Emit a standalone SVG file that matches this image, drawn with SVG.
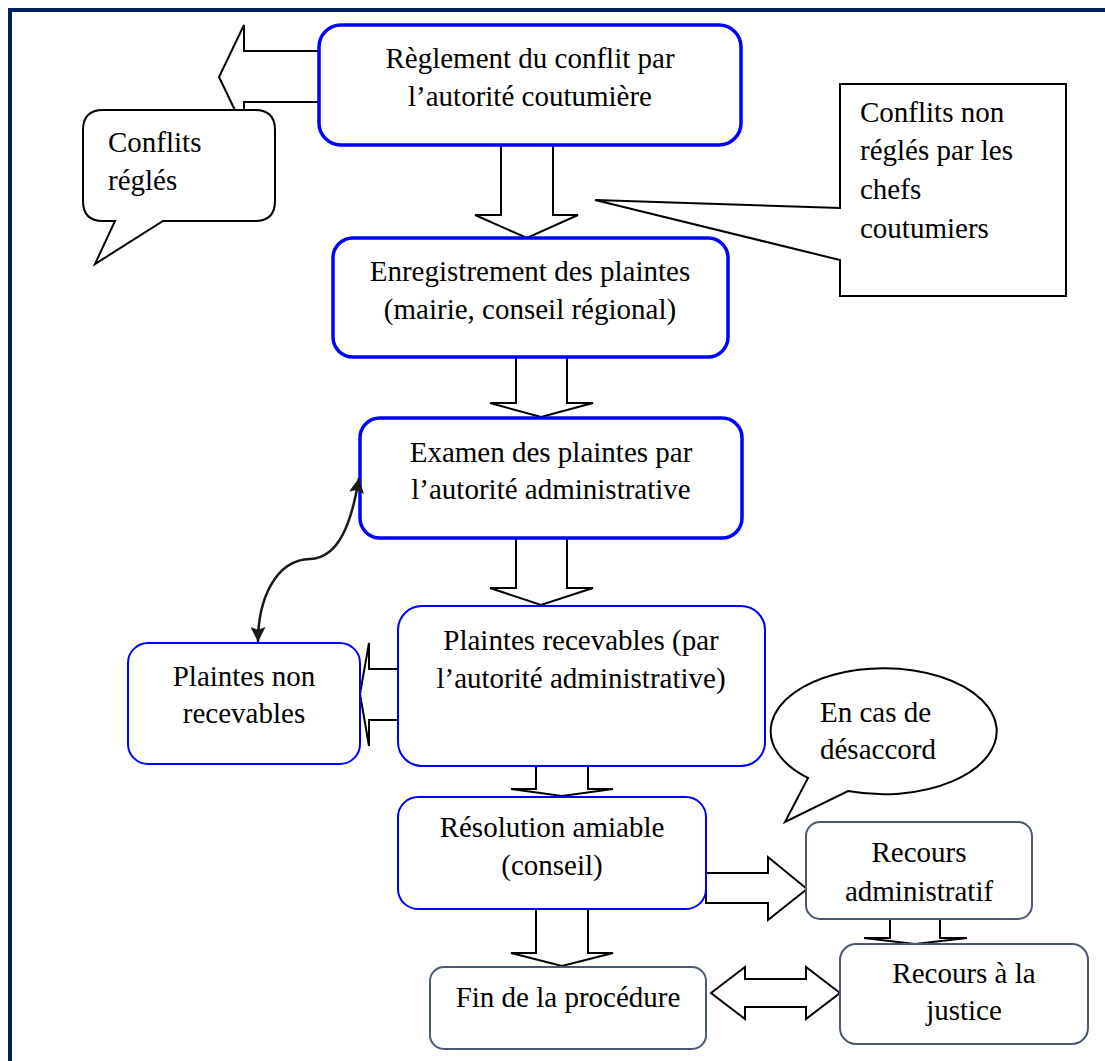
<svg xmlns="http://www.w3.org/2000/svg" width="1105" height="1061" viewBox="0 0 1105 1061">
<defs>
<style>
.t{font-family:"Liberation Serif","Times New Roman",serif;font-size:29px;fill:#000}
.m{text-anchor:middle}
.bA{fill:#fff;stroke:#0000ff;stroke-width:3.5}
.bB{fill:#fff;stroke:#0000ff;stroke-width:2}
.bC{fill:#fff;stroke:#4a5870;stroke-width:2}
.call{fill:#fff;stroke:#000;stroke-width:2;stroke-linejoin:miter}
.blk{fill:#fff;stroke:#000;stroke-width:2;stroke-linejoin:miter}
.crv{fill:none;stroke:#1a1a1a;stroke-width:2.5}
</style>
<marker id="ah" viewBox="0 0 16 16" refX="16" refY="8" markerWidth="16" markerHeight="15" markerUnits="userSpaceOnUse" orient="auto-start-reverse">
<path d="M0,0 L16,8 L0,16 L3,8 Z" fill="#1a1a1a"/>
</marker>
</defs>
<rect x="0" y="0" width="1105" height="1061" fill="#fff"/>
<g id="frame">
<rect x="8" y="8" width="1097" height="4" fill="#002060"/>
<rect x="8" y="8" width="4" height="1053" fill="#002060"/>
</g>
<g id="connectors">
<polygon class="blk" points="319,51 244,51 244,25 219,77 244,129 244,102 319,102"/>
<polygon class="blk" points="501,145 501,215 475,215 527,238 578,215 553,215 553,145"/>
<polygon class="blk" points="516,357 516,403 490,403 541,417 593,403 567,403 567,357"/>
<polygon class="blk" points="516,538 516,588 490,588 541,605 593,588 567,588 567,538"/>
<polygon class="blk" points="398,669 369,669 369,643 360,694 369,746 369,720 398,720"/>
<polygon class="blk" points="536,766 536,789 511,789 562,796 613,789 588,789 588,766"/>
<polygon class="blk" points="536,909 536,953 511,953 562,966 613,953 588,953 588,909"/>
<polygon class="blk" points="706,873 768,873 768,857 807,889 768,920 768,903 706,903"/>
<polygon class="blk" points="890,919 890,938 864,938 915,944 967,938 940,938 940,919"/>
<polygon class="blk" points="711,993 745,967 745,979 806,979 806,967 840,993 806,1019 806,1007 745,1007 745,1019"/>
</g>
<g id="n1">
<rect class="bA" x="319" y="25" width="422" height="120" rx="22"/>
<text class="t m" x="530" y="68">Règlement du conflit par</text>
<text class="t m" x="530" y="106">l’autorité coutumière</text>
</g>
<g id="n2">
<rect class="bA" x="333" y="238" width="395" height="119" rx="20"/>
<text class="t m" x="530" y="281">Enregistrement des plaintes</text>
<text class="t m" x="530" y="319">(mairie, conseil régional)</text>
</g>
<g id="n3">
<rect class="bA" x="360" y="418" width="382" height="120" rx="20"/>
<text class="t m" x="551" y="462">Examen des plaintes par</text>
<text class="t m" x="551" y="499">l’autorité administrative</text>
</g>
<g id="n4">
<rect class="bB" x="398" y="606" width="367" height="160" rx="24"/>
<text class="t m" x="581" y="650">Plaintes recevables (par</text>
<text class="t m" x="581" y="688">l’autorité administrative)</text>
</g>
<g id="n5">
<rect class="bB" x="128" y="643" width="232" height="121" rx="20"/>
<text class="t m" x="244" y="686">Plaintes non</text>
<text class="t m" x="244" y="723">recevables</text>
</g>
<g id="n6">
<rect class="bB" x="398" y="797" width="308" height="112" rx="20"/>
<text class="t m" x="552" y="837">Résolution amiable</text>
<text class="t m" x="552" y="875">(conseil)</text>
</g>
<g id="n7">
<rect class="bC" x="430" y="967" width="276" height="82" rx="14"/>
<text class="t m" x="568" y="1007">Fin de la procédure</text>
</g>
<g id="n8">
<rect class="bC" x="806" y="822" width="226" height="97" rx="14"/>
<text class="t m" x="919" y="862">Recours</text>
<text class="t m" x="919" y="901">administratif</text>
</g>
<g id="n9">
<rect class="bC" x="840" y="944" width="248" height="100" rx="16"/>
<text class="t m" x="964" y="983">Recours à la</text>
<text class="t m" x="964" y="1020">justice</text>
</g>
<g id="c1">
<path class="call" d="M103,110 H255 Q275,110 275,130 V201 Q275,221 255,221 H163 L95,264 L115,221 H103 Q83,221 83,201 V130 Q83,110 103,110 Z"/>
<text class="t" x="108" y="152">Conflits</text>
<text class="t" x="108" y="190">réglés</text>
</g>
<g id="c2">
<path class="call" d="M840,84 H1066 V296 H840 V260 L595,200 L840,208 Z"/>
<text class="t" x="860" y="122">Conflits non</text>
<text class="t" x="860" y="160">réglés par les</text>
<text class="t" x="860" y="199">chefs</text>
<text class="t" x="860" y="238">coutumiers</text>
</g>
<g id="c3">
<path class="call" d="M848,791 A113 63 0 1 0 808,778 L785,822 Z"/>
<text class="t" x="820" y="722">En cas de</text>
<text class="t" x="820" y="759">désaccord</text>
</g>
<g id="curved">
<path class="crv" d="M359,478 C352,520 340,558 310,559 C275,560 258,600 258,642" marker-start="url(#ah)" marker-end="url(#ah)"/>
</g>
</svg>
